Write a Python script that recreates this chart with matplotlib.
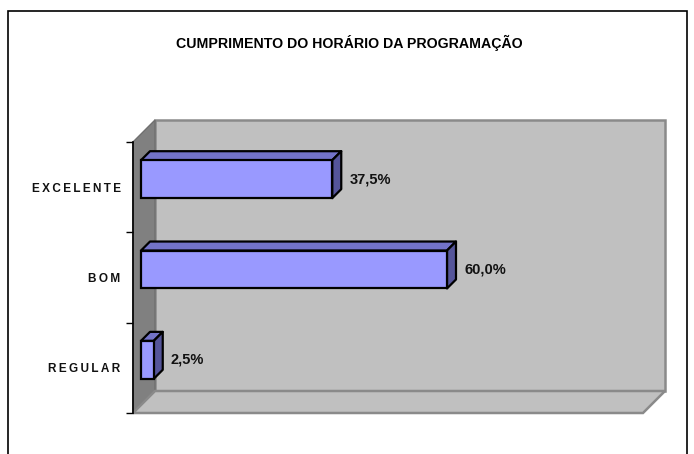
import matplotlib
matplotlib.use('Agg')
import matplotlib.pyplot as plt
from matplotlib.patches import Polygon, Rectangle
from matplotlib.transforms import offset_copy, IdentityTransform

plt.rcParams['font.family'] = ['Liberation Sans Narrow', 'Liberation Sans', 'DejaVu Sans']

TITLE      = 'CUMPRIMENTO DO HORÁRIO DA PROGRAMAÇÃO'
CATEGORIES = ['REGULAR', 'BOM', 'EXCELENTE']
VALUES     = [2.5, 60.0, 37.5]
LABELS     = ['2,5%', '60,0%', '37,5%']

FRONT  = '#9999FF'
TOP    = '#7373C8'
SIDE   = '#55559A'
WALL   = '#C0C0C0'
SWALL  = '#808080'
DEPTH  = 22   # wall depth in px
BAR_Z  = 8    # bar front offset
BAR_D  = 9    # bar depth


def spaced(s):
    return '\u2009'.join(s)


fig = plt.figure(figsize=(6.94, 4.54), dpi=100)
W, H = 694, 454
ax = fig.add_axes([133 / W, (H - 413) / H, 510 / W, (413 - 142) / H])
ax.set_xlim(0, 100)
ax.set_ylim(0, len(CATEGORIES))
ax.set_facecolor('none')
for s in ax.spines.values():
    s.set_visible(False)
ax.set_xticks([])
ax.set_yticks(range(len(CATEGORIES) + 1))
ax.set_yticklabels([])
ax.tick_params(axis='y', which='major', length=5, width=1, color='black', direction='out')
ax.set_yticks([i + 0.5 for i in range(len(CATEGORIES))], minor=True)
ax.set_yticklabels([spaced(c) for c in CATEGORIES], minor=True,
                   fontsize=8.5, fontweight='bold', color='#111111')
ax.tick_params(axis='y', which='minor', length=0, pad=9)

ident = IdentityTransform()


def px(x, y, d=0):
    p = ax.transData.transform((x, y))
    return (p[0] + d, p[1] + d)


def add(poly, **kw):
    ax.add_patch(Polygon(poly, closed=True, transform=ident, clip_on=False, **kw))


n = len(CATEGORIES)
# back wall
add([px(0, 0, DEPTH), px(100, 0, DEPTH), px(100, n, DEPTH), px(0, n, DEPTH)],
    facecolor=WALL, edgecolor='#8a8a8a', lw=1.8, zorder=0)
# side wall
add([px(0, 0), px(0, n), px(0, n, DEPTH), px(0, 0, DEPTH)],
    facecolor=SWALL, edgecolor='#707070', lw=1, zorder=1)
# floor
add([px(0, 0), px(100, 0), px(100, 0, DEPTH), px(0, 0, DEPTH)],
    facecolor=WALL, edgecolor='#8a8a8a', lw=1.8, zorder=1)
# axis line
ax.plot([0, 0], [0, n], color='black', lw=1.2, zorder=2, clip_on=False)

t_bar = offset_copy(ax.transData, fig=fig, x=BAR_Z, y=BAR_Z, units='dots')
t_lbl = offset_copy(ax.transData, fig=fig, x=BAR_Z + BAR_D + 8, y=BAR_Z, units='dots')

bh = 0.42
ypos = [i + 0.5 for i in range(n)]
bars = ax.barh(ypos, VALUES, height=bh, color=FRONT, edgecolor='black', lw=1.6,
               transform=t_bar, zorder=5, clip_on=False)

for y, v, lab in zip(ypos, VALUES, LABELS):
    y0, y1 = y - bh / 2, y + bh / 2
    a = BAR_Z
    b = BAR_Z + BAR_D
    top = [px(0, y1, a), px(v, y1, a), px(v, y1, b), px(0, y1, b)]
    side = [px(v, y0, a), px(v, y1, a), px(v, y1, b), px(v, y0, b)]
    add(top, facecolor=TOP, edgecolor='black', lw=1.6, zorder=4, joinstyle='round')
    add(side, facecolor=SIDE, edgecolor='black', lw=1.6, zorder=4, joinstyle='round')
    ax.text(v, y, lab, transform=t_lbl, ha='left', va='center',
            fontsize=10.5, fontweight='bold', color='#111111', zorder=6)

fig.text(349 / W, 1 - 43 / H, TITLE, ha='center', va='center',
         fontsize=10.2, fontweight='bold', color='black')

frame = Rectangle((8 / W, -0.05), (687 - 8) / W, 1 - 11 / H + 0.05,
                  transform=fig.transFigure, fill=False, edgecolor='black', lw=1.2)
fig.patches.append(frame)

fig.savefig('out.png', dpi=100)
